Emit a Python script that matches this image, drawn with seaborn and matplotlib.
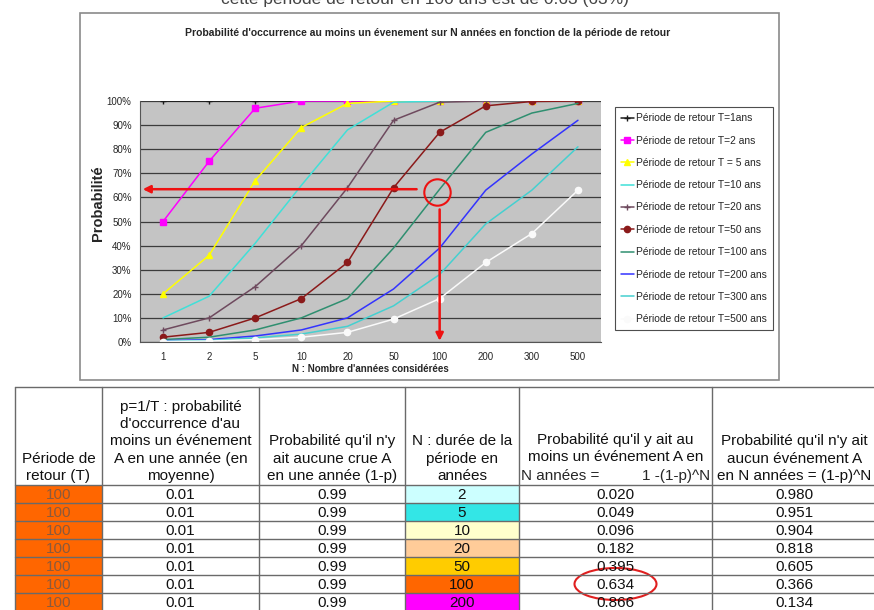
import matplotlib
matplotlib.use("Agg")
import matplotlib.pyplot as plt
import seaborn as sns
import pandas as pd
from matplotlib.patches import Rectangle, Ellipse
from matplotlib.lines import Line2D

# --- data ---
N_VALUES = [1, 2, 5, 10, 20, 50, 100, 200, 300, 500]

p_T1 = [1.00, 1.00, 1.00, 1.00, 1.00, 1.00, 1.00, 1.00, 1.00, 1.00]
p_T2 = [0.50, 0.75, 0.97, 1.00, 1.00, 1.00, 1.00, 1.00, 1.00, 1.00]
p_T5 = [0.20, 0.36, 0.67, 0.89, 0.99, 1.00, 1.00, 1.00, 1.00, 1.00]
p_T10 = [0.10, 0.19, 0.41, 0.65, 0.88, 0.995, 1.00, 1.00, 1.00, 1.00]
p_T20 = [0.05, 0.10, 0.23, 0.40, 0.64, 0.92, 0.995, 1.00, 1.00, 1.00]
p_T50 = [0.02, 0.04, 0.10, 0.18, 0.33, 0.64, 0.87, 0.98, 0.998, 1.00]
p_T100 = [0.01, 0.02, 0.05, 0.10, 0.18, 0.39, 0.634, 0.87, 0.95, 0.99]
p_T200 = [0.005, 0.01, 0.025, 0.05, 0.10, 0.22, 0.39, 0.63, 0.78, 0.92]
p_T300 = [0.003, 0.007, 0.017, 0.033, 0.065, 0.15, 0.28, 0.49, 0.63, 0.81]
p_T500 = [0.002, 0.004, 0.01, 0.02, 0.04, 0.095, 0.18, 0.33, 0.45, 0.63]

series_labels = ["Période de retour T=1ans", "Période de retour T=2 ans",
                 "Période de retour T = 5 ans", "Période de retour T=10 ans",
                 "Période de retour T=20 ans", "Période de retour T=50 ans",
                 "Période de retour T=100 ans", "Période de retour T=200 ans",
                 "Période de retour T=300 ans", "Période de retour T=500 ans"]
series_values = [p_T1, p_T2, p_T5, p_T10, p_T20, p_T50, p_T100, p_T200, p_T300, p_T500]
series_colors = ["#1a1a1a", "#FF00FF", "#FFFF00", "#40E0D8", "#6E4A5E",
                 "#8B1A1A", "#2F8F70", "#3333FF", "#45D0D0", "#FAFAFA"]
series_markers = ["+", "s", "^", None, "+", "o", None, None, None, "o"]

# table under the chart
tbl_T = ["100", "100", "100", "100", "100", "100", "100"]
tbl_p = ["0.01", "0.01", "0.01", "0.01", "0.01", "0.01", "0.01"]
tbl_q = ["0.99", "0.99", "0.99", "0.99", "0.99", "0.99", "0.99"]
tbl_N = ["2", "5", "10", "20", "50", "100", "200"]
tbl_N_colors = ["#CCFFFF", "#33E6E6", "#FFFFCC", "#FFCC99", "#FFCC00", "#FF6600", "#FF00FF"]
tbl_P = ["0.020", "0.049", "0.096", "0.182", "0.395", "0.634", "0.866"]
tbl_Q = ["0.980", "0.951", "0.904", "0.818", "0.605", "0.366", "0.134"]

headers = ["Période de\nretour (T)",
           "p=1/T : probabilité\nd'occurrence d'au\nmoins un événement\nA en une année (en\nmoyenne)",
           "Probabilité qu'il n'y\nait aucune crue A\nen une année (1-p)",
           "N : durée de la\npériode en\nannées",
           None,
           "Probabilité qu'il n'y ait\naucun événement A\nen N années = (1-p)^N"]
header5_top = "Probabilité qu'il y ait au\nmoins un événement A en"

W, H = 874, 610
sns.set_style("white")
plt.rcParams['font.family'] = ['Liberation Sans', 'DejaVu Sans']

fig = plt.figure(figsize=(W / 100, H / 100), dpi=100)

# --- background layer in pixel coordinates: frame + table ---
bg = fig.add_axes([0, 0, 1, 1])
bg.set_xlim(0, W)
bg.set_ylim(H, 0)
bg.axis("off")

bg.text(425, 4, "cette période de retour en 100 ans est de 0.63 (63%)",
        ha="center", va="baseline", fontsize=12.5, color="#444444")
bg.add_patch(Rectangle((80, 13), 699, 367, facecolor="white", edgecolor="#8a8a8a", lw=1.2))

col_edges = [15, 102, 259, 405, 519, 712, 877]
head_top, head_bot, row_h = 387, 485, 18.0
n_rows = len(tbl_T)
line_c = "#6a6a6a"

for i in range(n_rows):
    y0 = head_bot + i * row_h
    bg.add_patch(Rectangle((col_edges[0], y0), col_edges[1] - col_edges[0], row_h,
                           facecolor="#FF6600", edgecolor="none"))
    bg.add_patch(Rectangle((col_edges[3], y0), col_edges[4] - col_edges[3], row_h,
                           facecolor=tbl_N_colors[i], edgecolor="none"))
    yc = y0 + row_h / 2 + 1
    cols = [tbl_T[i], tbl_p[i], tbl_q[i], tbl_N[i], tbl_P[i], tbl_Q[i]]
    for j, val in enumerate(cols):
        xc = (col_edges[j] + col_edges[j + 1]) / 2
        color = "#8B5A3C" if j == 0 else "#111111"
        bg.text(xc, yc, val, ha="center", va="center", fontsize=11, color=color)

# grid of the table
for k in range(n_rows + 1):
    y = head_bot + k * row_h
    bg.plot([col_edges[0], col_edges[-1]], [y, y], color=line_c, lw=1)
bg.plot([col_edges[0], col_edges[-1]], [head_top, head_top], color=line_c, lw=1)
for x in col_edges:
    bg.plot([x, x], [head_top, H], color=line_c, lw=1)

for j, txt in enumerate(headers):
    if txt is None:
        continue
    xc = (col_edges[j] + col_edges[j + 1]) / 2
    bg.text(xc, head_bot - 2, txt, ha="center", va="bottom", fontsize=11,
            linespacing=1.3, color="#111111")
bg.text((col_edges[4] + col_edges[5]) / 2, head_bot - 21, header5_top, ha="center", va="bottom",
        fontsize=11, linespacing=1.3, color="#111111")
bg.text(col_edges[4] + 2, head_bot - 2, "N années =", ha="left", va="bottom", fontsize=11)
bg.text(col_edges[5] - 2, head_bot - 2, "1 -(1-p)^N", ha="right", va="bottom", fontsize=11)

# red ellipse around the highlighted value
bg.add_patch(Ellipse(((col_edges[4] + col_edges[5]) / 2, head_bot + 5.5 * row_h), 82, 32,
                     facecolor="none", edgecolor="#E02020", lw=1.5))

# --- chart ---
ax = fig.add_axes([140 / W, 1 - 342 / H, 461 / W, 241 / H])
ax.set_facecolor("#C4C4C4")

positions = list(range(len(N_VALUES)))
handles = []
for lab, vals, col, mk in zip(series_labels, series_values, series_colors, series_markers):
    df = pd.DataFrame({"pos": positions, "proba": vals})
    sns.lineplot(data=df, x="pos", y="proba", color=col, marker=mk, markersize=4.5,
                 mec=col, mfc=col, mew=1, lw=1.1, ax=ax, sort=False, legend=False)
    handles.append(Line2D([], [], color=col, marker=mk, markersize=4.5, mec=col, mfc=col, lw=1.1))

ax.set_xlim(-0.5, len(N_VALUES) - 0.5)
ax.set_ylim(0, 1.0)
ax.set_xticks(positions)
ax.set_xticklabels([str(n) for n in N_VALUES], fontsize=7)
ax.set_xticks([p - 0.5 for p in positions] + [len(N_VALUES) - 0.5], minor=True)
ax.set_yticks([i / 10 for i in range(11)])
ax.set_yticklabels([f"{i * 10}%" for i in range(11)], fontsize=7)
ax.tick_params(axis="x", which="major", length=0, pad=7)
ax.tick_params(axis="x", which="minor", length=3, color="#555555", direction="out")
ax.tick_params(axis="y", length=3, color="#555555", direction="out", pad=3)
ax.yaxis.grid(True, color="#3c3c3c", lw=0.9)
ax.set_axisbelow(True)
for side in ["top", "right"]:
    ax.spines[side].set_visible(False)
for side in ["left", "bottom"]:
    ax.spines[side].set_color("#555555")
    ax.spines[side].set_linewidth(0.8)

ax.set_xlabel("N : Nombre d'années considérées", fontsize=7, fontweight="bold")
ax.xaxis.set_label_coords(0.5, -0.09)
ax.set_ylabel("Probabilité", fontsize=10.5, fontweight="bold")
ax.yaxis.set_label_coords(-0.076, 0.577)

fig.text(428 / W, 1 - 33 / H,
         "Probabilité d'occurrence au moins un évenement sur N années en fonction de la période de retour",
         ha="center", va="center", fontsize=7.5, fontweight="bold")

# red reading arrows and circle on the T=100 curve at N=100
i100 = N_VALUES.index(100)
val = p_T100[i100]
arrow = dict(arrowstyle="-|>", color="#EE1111", lw=1.8, mutation_scale=11, shrinkA=0, shrinkB=0)
ax.annotate("", xy=(-0.44, val), xytext=(i100 - 0.5, val), arrowprops=arrow)
ax.annotate("", xy=(i100, 0.005), xytext=(i100, 0.55), arrowprops=arrow)
ax.plot([i100 - 0.05], [val - 0.012], marker="o", ms=19, mfc="none", mec="#EE1111", mew=1.5,
        zorder=5)

leg = ax.legend(handles, series_labels, loc="upper left",
                bbox_to_anchor=(615 / W, 1 - 107 / H), bbox_transform=fig.transFigure,
                fontsize=7.4, frameon=True, fancybox=False, edgecolor="#222222",
                handlelength=1.2, handletextpad=0.2, labelspacing=1.2,
                borderpad=0.6, borderaxespad=0)
leg.get_frame().set_linewidth(0.8)

fig.savefig("out.png", dpi=100)
